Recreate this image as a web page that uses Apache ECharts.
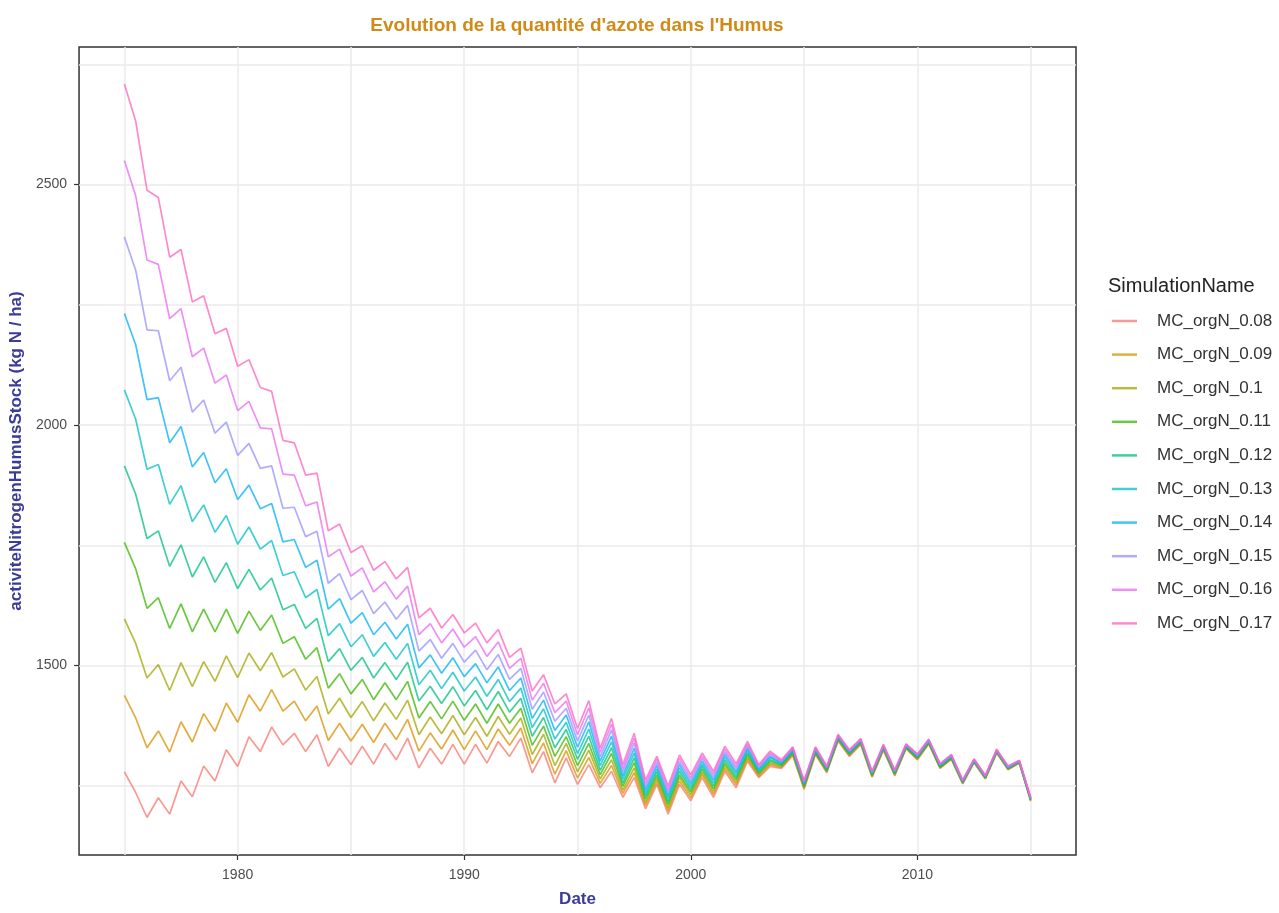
<!DOCTYPE html>
<html>
<head>
<meta charset="utf-8">
<title>Evolution de la quantité d'azote dans l'Humus</title>
<script src="https://cdn.jsdelivr.net/npm/echarts@6/dist/echarts.min.js"></script>
<style>
  html, body { margin: 0; padding: 0; background: #fff; }
  #chart { width: 1279px; height: 913px; }
</style>
</head>
<body>
<div id="chart"></div>
<script>
// un point par demi-année : creux en janvier, pic en juillet
const dates = []
for (let y = 1975; y <= 2015; y += 0.5) dates.push(y)

const simNames = ['MC_orgN_0.08', 'MC_orgN_0.09', 'MC_orgN_0.1', 'MC_orgN_0.11', 'MC_orgN_0.12',
                  'MC_orgN_0.13', 'MC_orgN_0.14', 'MC_orgN_0.15', 'MC_orgN_0.16', 'MC_orgN_0.17']
const simColors = ['#F8766D', '#D89000', '#A3A500', '#39B600', '#00BF7D',
                   '#00BFC4', '#00B0F6', '#9590FF', '#E76BF3', '#FF62BC']

const orgN_008 = [1279,1236,1184,1225,1191,1260,1227,1291,1260,1325,
  1290,1352,1321,1372,1335,1359,1321,1356,1290,1328,
  1294,1332,1295,1338,1304,1349,1287,1328,1295,1336,
  1295,1336,1297,1342,1311,1349,1277,1321,1256,1308,
  1253,1294,1246,1280,1226,1267,1202,1253,1191,1253,
  1219,1267,1226,1280,1246,1301,1267,1290,1286,1313,
  1243,1315,1277,1343,1311,1336,1268,1324,1271,1327,
  1304,1337,1286,1305,1254,1298,1264,1318,1283,1297,
  1218]
const orgN_009 = [1438,1391,1329,1364,1320,1383,1341,1400,1363,1422,
  1382,1439,1405,1450,1405,1426,1385,1416,1344,1380,
  1343,1378,1340,1380,1346,1388,1322,1360,1326,1366,
  1325,1364,1325,1368,1334,1370,1296,1339,1274,1323,
  1266,1309,1255,1292,1234,1277,1209,1259,1198,1260,
  1225,1273,1232,1286,1252,1306,1270,1294,1288,1315,
  1245,1317,1279,1345,1313,1337,1269,1325,1272,1328,
  1305,1338,1287,1306,1255,1299,1265,1319,1284,1298,
  1219]
const orgN_010 = [1597,1546,1474,1502,1448,1506,1456,1508,1467,1520,
  1475,1526,1489,1527,1476,1493,1449,1477,1399,1432,
  1392,1425,1385,1422,1388,1428,1356,1393,1358,1396,
  1356,1392,1353,1394,1357,1391,1315,1357,1292,1338,
  1279,1324,1264,1304,1241,1287,1215,1266,1204,1267,
  1231,1278,1238,1292,1257,1310,1273,1297,1290,1317,
  1247,1319,1280,1346,1314,1339,1271,1327,1274,1329,
  1307,1339,1288,1307,1256,1300,1266,1320,1285,1298,
  1220]
const orgN_011 = [1756,1701,1619,1641,1577,1628,1570,1617,1570,1617,
  1567,1613,1573,1605,1546,1560,1513,1537,1453,1483,
  1441,1471,1429,1464,1429,1467,1391,1425,1389,1426,
  1386,1420,1380,1420,1380,1411,1334,1374,1311,1352,
  1292,1338,1273,1317,1249,1298,1222,1272,1211,1273,
  1237,1284,1244,1297,1263,1315,1276,1301,1292,1319,
  1249,1320,1282,1348,1316,1340,1272,1328,1275,1330,
  1308,1340,1289,1308,1257,1301,1267,1321,1286,1299,
  1221]
const orgN_012 = [1915,1856,1764,1780,1706,1751,1684,1726,1673,1714,
  1660,1700,1657,1682,1616,1627,1577,1598,1508,1535,
  1490,1517,1474,1506,1471,1507,1426,1457,1421,1456,
  1416,1448,1408,1446,1403,1432,1353,1392,1329,1367,
  1305,1353,1282,1329,1256,1308,1229,1279,1217,1280,
  1243,1290,1250,1303,1268,1319,1279,1304,1294,1321,
  1251,1322,1283,1349,1317,1341,1273,1329,1276,1331,
  1309,1341,1290,1309,1258,1302,1268,1322,1287,1300,
  1222]
const orgN_013 = [2073,2012,1908,1918,1835,1874,1799,1834,1777,1812,
  1752,1788,1742,1760,1687,1695,1641,1658,1562,1587,
  1539,1564,1519,1548,1513,1546,1460,1490,1452,1486,
  1447,1476,1436,1471,1425,1453,1371,1410,1347,1382,
  1317,1368,1292,1341,1264,1318,1235,1285,1224,1287,
  1249,1295,1256,1309,1274,1324,1282,1308,1296,1323,
  1253,1324,1285,1351,1319,1343,1275,1331,1278,1333,
  1311,1343,1292,1311,1258,1302,1268,1322,1287,1300,
  1222]
const orgN_014 = [2232,2167,2053,2057,1963,1997,1913,1943,1880,1909,
  1845,1875,1826,1837,1757,1762,1704,1719,1617,1639,
  1588,1610,1564,1590,1555,1586,1495,1522,1484,1516,
  1477,1504,1464,1497,1448,1474,1390,1428,1365,1397,
  1330,1383,1301,1353,1271,1328,1242,1292,1230,1294,
  1255,1301,1262,1315,1279,1328,1285,1311,1298,1325,
  1255,1326,1286,1352,1320,1344,1276,1332,1279,1334,
  1312,1344,1293,1312,1259,1303,1269,1323,1288,1301,
  1223]
const orgN_015 = [2391,2322,2198,2196,2092,2120,2027,2052,1983,2006,
  1937,1962,1910,1915,1827,1829,1768,1779,1671,1691,
  1637,1656,1608,1632,1596,1625,1530,1554,1515,1546,
  1507,1532,1491,1523,1471,1494,1409,1445,1384,1411,
  1343,1397,1310,1366,1279,1339,1249,1298,1237,1300,
  1261,1307,1268,1320,1285,1333,1288,1315,1300,1327,
  1257,1327,1288,1354,1322,1345,1277,1333,1280,1335,
  1313,1345,1294,1313,1260,1304,1270,1324,1289,1302,
  1224]
const orgN_016 = [2550,2477,2343,2334,2221,2242,2142,2160,2087,2104,
  2030,2049,1994,1992,1898,1896,1832,1840,1726,1742,
  1686,1703,1653,1674,1638,1665,1564,1587,1547,1576,
  1538,1560,1519,1549,1494,1515,1428,1463,1402,1426,
  1356,1412,1319,1378,1286,1349,1255,1305,1243,1307,
  1267,1312,1274,1326,1290,1337,1291,1318,1302,1329,
  1259,1329,1289,1355,1323,1347,1279,1335,1282,1336,
  1315,1346,1295,1314,1261,1305,1271,1325,1290,1302,
  1225]
const orgN_017 = [2709,2632,2488,2473,2349,2365,2256,2269,2190,2201,
  2122,2136,2078,2070,1968,1963,1896,1900,1780,1794,
  1735,1749,1698,1716,1680,1704,1599,1619,1578,1606,
  1568,1588,1547,1575,1517,1536,1447,1481,1420,1441,
  1369,1427,1328,1390,1294,1359,1262,1311,1250,1314,
  1273,1318,1280,1332,1296,1342,1294,1322,1304,1331,
  1261,1331,1291,1357,1325,1348,1280,1336,1283,1337,
  1316,1347,1296,1315,1262,1306,1272,1326,1291,1303,
  1226]

const allSims = [orgN_008, orgN_009, orgN_010, orgN_011, orgN_012,
                 orgN_013, orgN_014, orgN_015, orgN_016, orgN_017]

// graduations
const xLabelTicks = [1980, 1990, 2000, 2010]
const xGridTicks = [1975, 1980, 1985, 1990, 1995, 2000, 2005, 2010, 2015]
const yLabelTicks = [1500, 2000, 2500]
const yGridTicks = [1250, 1500, 1750, 2000, 2250, 2500, 2750]

const font = 'Liberation Sans, Arial, sans-serif'
const xMin = 1973, xMax = 2017
const yMin = 1106, yMax = 2786

const chart = echarts.init(document.getElementById('chart'))

const series = allSims.map((vals, i) => ({
    name: simNames[i],
    type: 'line',
    xAxisIndex: 0,
    yAxisIndex: 0,
    showSymbol: false,
    symbol: 'none',
    data: dates.map((d, j) => [d, vals[j]]),
    lineStyle: { color: simColors[i], width: 1.7, opacity: 0.75 },
    itemStyle: { color: simColors[i] }
}))

const gridAxis = (ticks, min, max) => ({
    type: 'value', gridIndex: 0, min: min, max: max,
    axisLine: { show: false },
    axisTick: { show: false, customValues: ticks },
    axisLabel: { show: false },
    splitLine: { show: true, lineStyle: { color: '#ebebeb', width: 1.5 } }
})

const option = {
    animation: false,
    backgroundColor: '#fff',
    textStyle: { fontFamily: font },
    title: [{
        text: "Evolution de la quantité d'azote dans l'Humus",
        left: 577, top: 16, padding: 0, textAlign: 'center',
        textStyle: { color: '#d18a16', fontSize: 19, fontWeight: 'bold', fontFamily: font }
    }, {
        text: 'SimulationName',
        left: 1108, top: 276, padding: 0,
        textStyle: { color: '#222', fontSize: 20, fontWeight: 'normal', fontFamily: font }
    }],
    legend: {
        orient: 'vertical',
        left: 1112, top: 311,
        itemWidth: 25, itemHeight: 2.5,
        itemGap: 13.6,
        icon: 'rect',
        padding: 0,
        data: simNames,
        itemStyle: { opacity: 0.75 },
        textStyle: { fontSize: 17, lineHeight: 20, color: '#333', fontFamily: font, padding: [0, 0, 0, 15] }
    },
    grid: {
        left: 79, right: 203, top: 47, bottom: 48,
        show: true, borderColor: '#333', borderWidth: 1.5, backgroundColor: '#fff'
    },
    xAxis: [
        gridAxis(xGridTicks, xMin, xMax),
        {
            type: 'value', gridIndex: 0, min: xMin, max: xMax, position: 'bottom',
            name: 'Date', nameLocation: 'middle', nameGap: 36,
            nameTextStyle: { color: '#3b3b98', fontSize: 17, fontWeight: 'bold', fontFamily: font },
            axisLine: { show: false },
            axisTick: { show: true, customValues: xLabelTicks, length: 5, lineStyle: { color: '#333', width: 1.2 } },
            axisLabel: { customValues: xLabelTicks, formatter: v => String(v), color: '#4d4d4d', fontSize: 14, margin: 13, fontFamily: font },
            splitLine: { show: false }
        }
    ],
    yAxis: [
        gridAxis(yGridTicks, yMin, yMax),
        {
            type: 'value', gridIndex: 0, min: yMin, max: yMax, position: 'left',
            name: 'activiteNitrogenHumusStock (kg N / ha)', nameLocation: 'middle', nameRotate: 90, nameGap: 48,
            nameTextStyle: { color: '#3b3b98', fontSize: 17, fontWeight: 'bold', fontFamily: font },
            axisLine: { show: false },
            axisTick: { show: true, customValues: yLabelTicks, length: 5, lineStyle: { color: '#333', width: 1.2 } },
            axisLabel: { customValues: yLabelTicks, formatter: v => String(v), color: '#4d4d4d', fontSize: 14, margin: 12, fontFamily: font },
            splitLine: { show: false }
        }
    ],
    series: series
}

chart.setOption(option)
</script>
</body>
</html>
